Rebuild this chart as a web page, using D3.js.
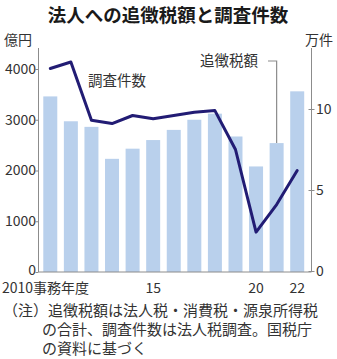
<!DOCTYPE html>
<html>
<head>
<meta charset="utf-8">
<script src="https://cdn.jsdelivr.net/npm/d3@7"></script>
<style>
  html, body { margin: 0; padding: 0; background: #fff; }
  svg { display: block; font-family: "Noto Sans CJK JP", "Noto Sans", sans-serif; }
</style>
</head>
<body>
<svg id="chart" width="337" height="359"></svg>
<script>
// 事務年度
const years = [2010, 2011, 2012, 2013, 2014, 2015, 2016, 2017, 2018, 2019, 2020, 2021, 2022];
// 追徴税額（億円）
const taxAmount = [3460, 2970, 2860, 2230, 2430, 2600, 2800, 3000, 3120, 2670, 2080, 2540, 3560];
// 調査件数（万件）
const auditCount = [12.5, 12.9, 9.3, 9.1, 9.6, 9.4, 9.6, 9.8, 9.9, 7.5, 2.4, 4.1, 6.2];
// 目盛り
const leftTicks = [0, 1000, 2000, 3000, 4000];
const rightTicks = [0, 5, 10];
const xTickLabels = [
  { year: 2010, text: "2010事務年度" },
  { year: 2015, text: "15" },
  { year: 2020, text: "20" },
  { year: 2022, text: "22" }
];

const svg = d3.select("#chart");
const axisColor = "#8c8c8c";
const textColor = "#333";

const plot = { left: 38.5, right: 311.5, top: 48, bottom: 272 };

const x = d3.scaleBand()
  .domain(years)
  .range([40, 307.5])
  .paddingInner(0.32)
  .paddingOuter(0.16);

const yL = d3.scaleLinear().domain([0, 4000]).range([plot.bottom, 69]);
const yR = d3.scaleLinear().domain([0, 10]).range([plot.bottom - 1, 109]);

// タイトル
svg.append("text")
  .attr("x", 168).attr("y", 22)
  .attr("text-anchor", "middle")
  .attr("font-size", 18.5).attr("font-weight", 700)
  .attr("fill", "#1a1a1a")
  .text("法人への追徴税額と調査件数");

// 単位
svg.append("text").attr("x", 4).attr("y", 45)
  .attr("font-size", 14).attr("fill", textColor).text("億円");
svg.append("text").attr("x", 333).attr("y", 45)
  .attr("text-anchor", "end")
  .attr("font-size", 14).attr("fill", textColor).text("万件");

// 棒（追徴税額）
svg.append("g").selectAll("rect")
  .data(years)
  .join("rect")
  .attr("x", d => x(d))
  .attr("width", x.bandwidth())
  .attr("y", (d, i) => yL(taxAmount[i]))
  .attr("height", (d, i) => plot.bottom - yL(taxAmount[i]))
  .attr("fill", "#b9d0ec");

// 左軸
const gL = svg.append("g").attr("transform", `translate(${plot.left},0)`);
gL.call(d3.axisLeft(yL).tickValues(leftTicks).tickSize(3).tickFormat(d3.format("d")));
gL.select(".domain").remove();
gL.append("line").attr("x1", 0).attr("x2", 0)
  .attr("y1", plot.top).attr("y2", plot.bottom)
  .attr("stroke", axisColor).attr("stroke-width", 1);
gL.selectAll(".tick line").attr("stroke", axisColor);
gL.selectAll(".tick text")
  .attr("font-size", 14).attr("fill", textColor)
  .attr("font-family", "'Noto Sans CJK JP', sans-serif")
  .attr("x", -2.5)
  .attr("dy", d => d === 0 ? "0.2em" : "0.32em");

// 右軸
const gR = svg.append("g").attr("transform", `translate(${plot.right},0)`);
gR.call(d3.axisRight(yR).tickValues(rightTicks).tickSize(3));
gR.select(".domain").remove();
gR.append("line").attr("x1", 0).attr("x2", 0)
  .attr("y1", plot.top).attr("y2", plot.bottom)
  .attr("stroke", axisColor).attr("stroke-width", 1);
gR.selectAll(".tick line").attr("stroke", axisColor).attr("x1", -3);
gR.selectAll(".tick text")
  .attr("font-size", 14).attr("fill", textColor)
  .attr("font-family", "'Noto Sans CJK JP', sans-serif")
  .attr("x", 4.5);

// 横軸
svg.append("line")
  .attr("x1", plot.left).attr("x2", plot.right)
  .attr("y1", plot.bottom).attr("y2", plot.bottom)
  .attr("stroke", axisColor).attr("stroke-width", 1);

svg.append("g").selectAll("text")
  .data(xTickLabels)
  .join("text")
  .attr("x", d => d.year === 2010 ? 2 : x(d.year) + x.bandwidth() / 2)
  .attr("y", 293)
  .attr("text-anchor", d => d.year === 2010 ? "start" : "middle")
  .attr("font-size", 14)
  .attr("fill", textColor)
  .text(d => d.text);

// 折れ線（調査件数）
const line = d3.line()
  .x((d, i) => x(years[i]) + x.bandwidth() / 2)
  .y(d => yR(d));

svg.append("path")
  .datum(auditCount)
  .attr("d", line)
  .attr("fill", "none")
  .attr("stroke", "#221c74")
  .attr("stroke-width", 3)
  .attr("stroke-linejoin", "round")
  .attr("stroke-linecap", "round");

// 系列ラベル
svg.append("text").attr("x", 88).attr("y", 86)
  .attr("font-size", 14.5).attr("fill", textColor).text("調査件数");

svg.append("text").attr("x", 200).attr("y", 66)
  .attr("font-size", 14.5).attr("fill", textColor).text("追徴税額");

// 引き出し線（追徴税額 → 2021年の棒）
const cx2021 = x(2021) + x.bandwidth() / 2;
svg.append("path")
  .attr("d", `M268,61H${cx2021}V${yL(taxAmount[11])}`)
  .attr("fill", "none")
  .attr("stroke", axisColor)
  .attr("stroke-width", 1.2);

// 注記
const notes = [
  { x: 3, text: "（注）追徴税額は法人税・消費税・源泉所得税" },
  { x: 42, text: "の合計、調査件数は法人税調査。国税庁" },
  { x: 42, text: "の資料に基づく" }
];
svg.append("g").selectAll("text")
  .data(notes)
  .join("text")
  .attr("x", d => d.x)
  .attr("y", (d, i) => 316 + i * 19)
  .attr("font-size", 15)
  .attr("fill", textColor)
  .text(d => d.text);
</script>
</body>
</html>
